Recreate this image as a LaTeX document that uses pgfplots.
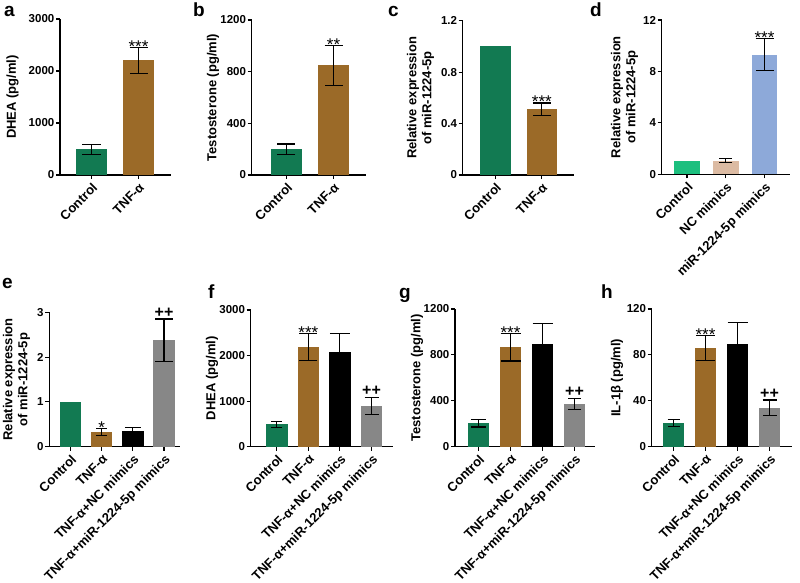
\documentclass[border=0pt]{standalone}
\usepackage{fontspec}
\setmainfont{Liberation Sans}
\usepackage{pgfplots}
\pgfplotsset{compat=1.18}
\definecolor{cgreen}{HTML}{127A52}
\definecolor{cbrown}{HTML}{9B6A28}
\definecolor{cbright}{HTML}{1CBF7E}
\definecolor{ctan}{HTML}{DCBBA3}
\definecolor{cblue}{HTML}{8DA9D9}
\definecolor{cgray}{HTML}{878787}
\pgfplotsset{
  panel/.style={
    scale only axis, axis lines=left, axis line style={-, line width=1.1pt},
    tick style={line width=1.1pt, black}, major tick length=4pt, tick align=outside,
    ymin=0, clip=false,
    /pgf/number format/assume math mode=true, /pgf/number format/1000 sep={},
    scaled y ticks=false,
    yticklabel style={font=\bfseries\fontsize{11.5}{12}\selectfont, inner sep=1.5pt},
    xticklabel style={font=\bfseries\fontsize{13}{13}\selectfont, rotate=45, anchor=north east, inner sep=2pt},
    ylabel style={font=\bfseries\fontsize{13}{15}\selectfont, align=center, anchor=center},
  },
  bb/.style n args={2}{ybar, bar shift=0pt, bar width=#1pt, fill=#2, draw=none},
  errb/.style={error bars/.cd, y dir=both, y explicit,
    error bar style={line width=1.1pt, black},
    error mark options={rotate=90, mark size=#1pt, line width=1.1pt, black}},
}
\tikzset{
  stars/.style={anchor=base, yshift=-5pt, font=\fontsize{17}{17}\selectfont, inner sep=0pt},
  plus/.style={anchor=base, yshift=2pt, font=\bfseries\fontsize{16}{16}\selectfont, inner sep=0pt},
}
\begin{document}
\begin{tikzpicture}
\useasboundingbox (0pt,0pt) rectangle (800pt,582pt);
% ---------- a
\begin{axis}[panel, at={(60pt,407pt)}, anchor=south west, width=111pt, height=156pt,
  xmin=-0.670, xmax=1.691, ymax=3000, ytick={0,1000,2000,3000},
  xtick={0,1}, xticklabels={Control,TNF-α},
  ylabel={DHEA (pg/ml)}, ylabel style={at={(axis description cs:-0.428,0.5)}}]
\addplot[bb={31}{cgreen}, errb=9] coordinates {(0,495) +- (0,95)};
\addplot[bb={31}{cbrown}, errb=9] coordinates {(1,2205) +- (0,245)};
\node[stars] at (axis cs:1,2450) {***};
\end{axis}
% ---------- b
\begin{axis}[panel, at={(251.7pt,407pt)}, anchor=south west, width=114pt, height=155pt,
  xmin=-0.740, xmax=1.685, ymax=1200, ytick={0,400,800,1200},
  xtick={0,1}, xticklabels={Control,TNF-α},
  ylabel={Testosterone (pg/ml)}, ylabel style={at={(axis description cs:-0.339,0.5)}}]
\addplot[bb={31}{cgreen}, errb=9] coordinates {(0,200) +- (0,40)};
\addplot[bb={31}{cbrown}, errb=9] coordinates {(1,850) +- (0,155)};
\node[stars] at (axis cs:1,1005) {**};
\end{axis}
% ---------- c
\begin{axis}[panel, at={(462.7pt,407pt)}, anchor=south west, width=111.3pt, height=154.3pt,
  xmin=-0.701, xmax=1.692, ymax=1.2, ytick={0,0.4,0.8,1.2},
  yticklabels={0,0.4,0.8,1.2},
  xtick={0,1}, xticklabels={Control,TNF-α},
  ylabel={Relative expression\\of miR-1224-5p}, ylabel style={at={(axis description cs:-0.379,0.5)}}]
\addplot[bb={30.5}{cgreen}] coordinates {(0,1.0)};
\addplot[bb={30.5}{cbrown}, errb=9] coordinates {(1,0.51) +- (0,0.05)};
\node[stars] at (axis cs:1,0.56) {***};
\end{axis}
% ---------- d
\begin{axis}[panel, at={(661.7pt,407.7pt)}, anchor=south west, width=128.3pt, height=154.3pt,
  xmin=-0.653, xmax=2.658, ymax=12, ytick={0,4,8,12},
  xtick={0,1,2}, xticklabels={Control,NC mimics,miR-1224-5p mimics},
  ylabel={Relative expression\\of miR-1224-5p}, ylabel style={at={(axis description cs:-0.29,0.5)}}]
\addplot[bb={25.5}{cbright}] coordinates {(0,1.0)};
\addplot[bb={25.5}{ctan}, errb=6.5] coordinates {(1,1.05) +- (0,0.15)};
\addplot[bb={25.5}{cblue}, errb=9] coordinates {(2,9.3) +- (0,1.25)};
\node[stars] at (axis cs:2,10.55) {***};
\end{axis}
% ---------- e
\begin{axis}[panel, at={(49.3pt,135.3pt)}, anchor=south west, width=130.7pt, height=134.4pt,
  xmin=-0.679, xmax=3.513, ymax=3, ytick={0,1,2,3},
  xtick={0,1,2,3}, xticklabels={Control,TNF-α,TNF-α+NC mimics,TNF-α+miR-1224-5p mimics},
  ylabel={Relative expression\\of miR-1224-5p}, ylabel style={at={(axis description cs:-0.251,0.5)}}]
\addplot[bb={21.5}{cgreen}] coordinates {(0,1.0)};
\addplot[bb={21.5}{cbrown}, errb=5.5] coordinates {(1,0.33) +- (0,0.07)};
\addplot[bb={21.5}{black}, errb=8] coordinates {(2,0.35) +- (0,0.07)};
\addplot[bb={21.5}{cgray}, errb=9] coordinates {(3,2.38) +- (0,0.47)};
\node[stars] at (axis cs:1,0.40) {*};
\node[plus] at (axis cs:3,2.85) {++};
\end{axis}
% ---------- f
\begin{axis}[panel, at={(250.7pt,135.3pt)}, anchor=south west, width=142pt, height=136.7pt,
  xmin=-0.826, xmax=3.671, ymax=3000, ytick={0,1000,2000,3000},
  xtick={0,1,2,3}, xticklabels={Control,TNF-α,TNF-α+NC mimics,TNF-α+miR-1224-5p mimics},
  ylabel={DHEA (pg/ml)}, ylabel style={at={(axis description cs:-0.273,0.5)}}]
\addplot[bb={21.5}{cgreen}, errb=5.5] coordinates {(0,490) +- (0,65)};
\addplot[bb={21.5}{cbrown}, errb=9] coordinates {(1,2180) +- (0,295)};
\addplot[bb={21.5}{black}, errb=10] coordinates {(2,2085) +- (0,400)};
\addplot[bb={21.5}{cgray}, errb=7] coordinates {(3,893) +- (0,178)};
\node[stars] at (axis cs:1,2475) {***};
\node[plus] at (axis cs:3,1071) {++};
\end{axis}
% ---------- g
\begin{axis}[panel, at={(455pt,135.3pt)}, anchor=south west, width=140pt, height=137.7pt,
  xmin=-0.734, xmax=3.64, ymax=1200, ytick={0,400,800,1200},
  xtick={0,1,2,3}, xticklabels={Control,TNF-α,TNF-α+NC mimics,TNF-α+miR-1224-5p mimics},
  ylabel={Testosterone (pg/ml)}, ylabel style={at={(axis description cs:-0.271,0.5)}}]
\addplot[bb={21}{cgreen}, errb=7.5] coordinates {(0,205) +- (0,33)};
\addplot[bb={21}{cbrown}, errb=10] coordinates {(1,865) +- (0,118)};
\addplot[bb={21}{black}, errb=10] coordinates {(2,895) +- (0,180)};
\addplot[bb={21}{cgray}, errb=6.5] coordinates {(3,373) +- (0,47)};
\node[stars] at (axis cs:1,983) {***};
\node[plus] at (axis cs:3,420) {++};
\end{axis}
% ---------- h
\begin{axis}[panel, at={(651.7pt,135.3pt)}, anchor=south west, width=140pt, height=137.7pt,
  xmin=-0.681, xmax=3.694, ymax=120, ytick={0,40,80,120},
  xtick={0,1,2,3}, xticklabels={Control,TNF-α,TNF-α+NC mimics,TNF-α+miR-1224-5p mimics},
  ylabel={IL-1β (pg/ml)}, ylabel style={at={(axis description cs:-0.248,0.5)}}]
\addplot[bb={21}{cgreen}, errb=6] coordinates {(0,20.5) +- (0,3.2)};
\addplot[bb={21}{cbrown}, errb=9.5] coordinates {(1,86) +- (0,11)};
\addplot[bb={21}{black}, errb=10] coordinates {(2,89.5) +- (0,18.5)};
\addplot[bb={21}{cgray}, errb=7] coordinates {(3,34) +- (0,6.7)};
\node[stars] at (axis cs:1,97) {***};
\node[plus] at (axis cs:3,40.7) {++};
\end{axis}
% ---------- panel letters
\begin{scope}[every node/.style={font=\bfseries\fontsize{19}{19}\selectfont, inner sep=0pt, anchor=base west}]
\node at (4pt,565pt) {a};
\node at (193pt,565pt) {b};
\node at (388pt,565pt) {c};
\node at (590pt,565pt) {d};
\node at (2pt,294pt) {e};
\node at (208pt,284pt) {f};
\node at (399pt,284pt) {g};
\node at (601pt,284pt) {h};
\end{scope}
\end{tikzpicture}
\end{document}
